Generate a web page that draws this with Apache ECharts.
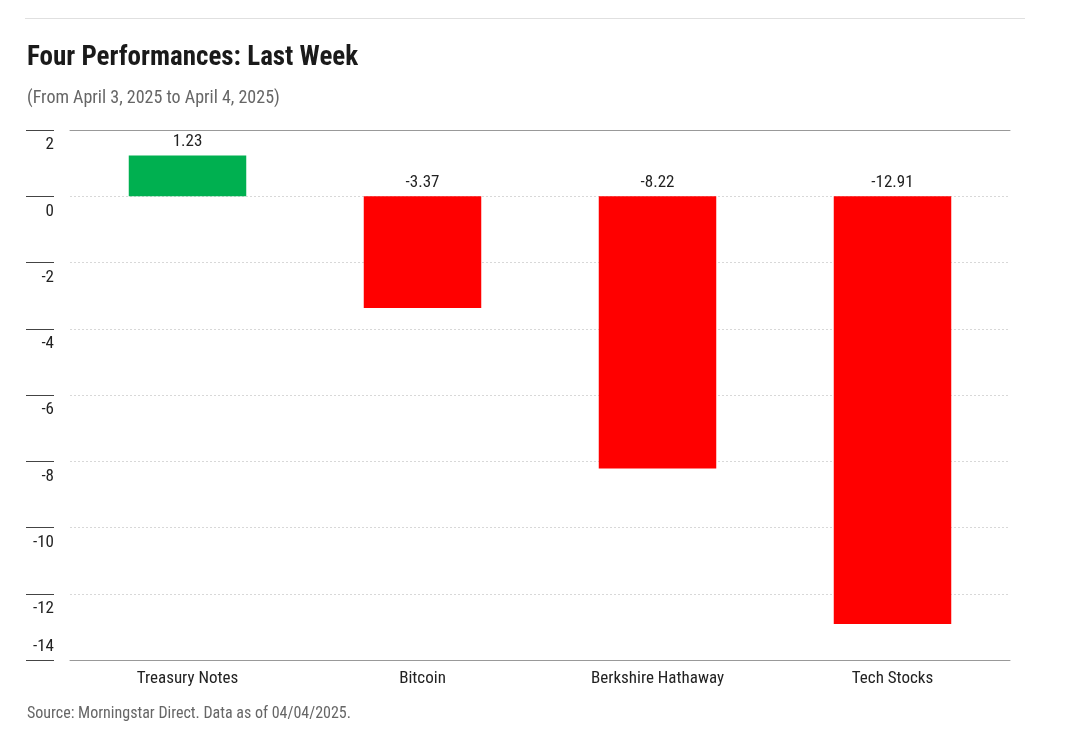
<!DOCTYPE html>
<html>
<head>
<meta charset="utf-8">
<script src="https://cdn.jsdelivr.net/npm/echarts@6/dist/echarts.min.js"></script>
<style>
html,body{margin:0;padding:0;background:#fff;}
#chart{width:1070px;height:748px;}
</style>
</head>
<body>
<div id="chart"></div>
<script>
var categories = ['Treasury Notes', 'Bitcoin', 'Berkshire Hathaway', 'Tech Stocks'];
var values = [1.23, -3.37, -8.22, -12.91];
var yMin = -14, yMax = 2, yInterval = 2;
var titleText = 'Four Performances: Last Week';
var subtitleText = '(From April 3, 2025 to April 4, 2025)';
var sourceText = 'Source: Morningstar Direct. Data as of 04/04/2025.';

var FONT = '"Roboto Condensed", "Liberation Sans Narrow", "DejaVu Sans Condensed", sans-serif';

var chart = echarts.init(document.getElementById('chart'), null, {renderer: 'canvas'});
chart.setOption({
  backgroundColor: '#fff',
  animation: false,
  title: [
    {text: titleText, left: 27, top: 45, padding: 0, textStyle: {fontFamily: FONT, fontSize: 27, fontWeight: 'bold', color: '#1a1a1a'}},
    {text: subtitleText, left: 27, top: 89, padding: 0, textStyle: {fontFamily: FONT, fontSize: 18, fontWeight: 'normal', color: '#666'}},
    {text: sourceText, left: 27, top: 706, padding: 0, textStyle: {fontFamily: FONT, fontSize: 16, fontWeight: 'normal', color: '#666'}}
  ],
  graphic: [
    {type: 'line', shape: {x1: 25, y1: 18.5, x2: 1025, y2: 18.5}, style: {stroke: '#e0e0e0', lineWidth: 1}}
  ],
  grid: {left: 70, right: 60, top: 130, bottom: 88, containLabel: false},
  xAxis: [
    {
      type: 'category', data: categories, position: 'bottom',
      axisLine: {onZero: false, lineStyle: {color: '#999', width: 1}},
      axisTick: {show: false},
      axisLabel: {fontFamily: FONT, fontSize: 17, color: '#222', margin: 10},
      splitLine: {show: false}
    },
    {
      type: 'category', data: categories, position: 'top',
      axisLine: {onZero: false, lineStyle: {color: '#999', width: 1}},
      axisTick: {show: false}, axisLabel: {show: false}, splitLine: {show: false}
    }
  ],
  yAxis: {
    type: 'value', min: yMin, max: yMax, interval: yInterval, offset: 16,
    axisLine: {show: false},
    axisTick: {show: true, length: 28, lineStyle: {color: '#444', width: 1}},
    axisLabel: {
      margin: 0, align: 'right', verticalAlign: 'middle', showMinLabel: true, showMaxLabel: true,
      formatter: function (v) { return v === yMin ? '{u|' + v + '}' : '{d|' + v + '}'; },
      rich: {
        d: {fontFamily: FONT, fontSize: 17, color: '#222', padding: [30, 0, 0, 0]},
        u: {fontFamily: FONT, fontSize: 17, color: '#222', padding: [0, 0, 26, 0]}
      }
    },
    splitLine: {show: true, lineStyle: {color: '#d8d8d8', type: [2, 2], width: 1}}
  },
  series: [{
    type: 'bar', data: values, barWidth: '50%', xAxisIndex: 0,
    itemStyle: {color: function (p) { return p.value >= 0 ? '#00B050' : '#FF0000'; }},
    label: {show: true, position: 'top', distance: 5, fontFamily: FONT, fontSize: 17, color: '#222',
      formatter: function (p) { return p.value.toFixed(2); }}
  }]
});
</script>
</body>
</html>
